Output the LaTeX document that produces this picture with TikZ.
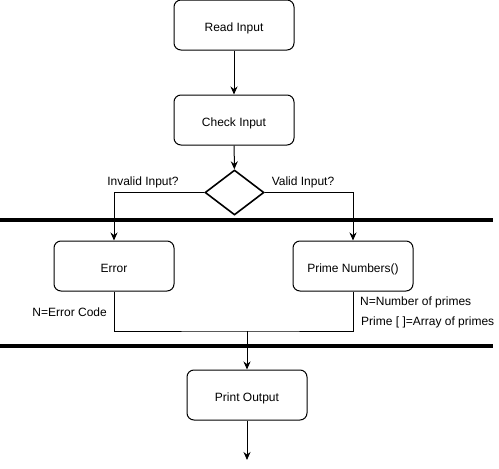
\documentclass[tikz,border=0pt]{standalone}
\usepackage{fontspec}
\setmainfont{Liberation Sans}
\usetikzlibrary{arrows.meta,shapes.geometric,positioning,calc}
\tikzset{block/.style={draw, line width=1pt, rounded corners=7pt, minimum width=120pt, minimum height=50pt, inner sep=0pt, text height=12pt, text depth=0pt}}
\tikzset{test/.style={draw, diamond, line width=1.6pt, minimum width=59pt, minimum height=45pt, inner sep=0pt}}
\tikzset{note/.style={inner sep=0pt}}

\begin{document}
\begin{tikzpicture}[x=1pt, y=-1pt, >={Stealth[length=8pt,width=7pt]}, font=\fontsize{12}{14}\selectfont]
\useasboundingbox (0,0) rectangle (499,469);

\node [block] (read) at (234,25) {Read Input};
\node [block] (check) at (234,120) {Check Input};
\node [test] (valid) at (234.5,192.5) {};
\node [block] (error) at (114,266) {Error};
\node [block] (prime) at (353,266) {Prime Numbers()};
\node [block] (print) at (247,395) {Print Output};

\draw [line width=4pt] (0,220) -- (493,220);
\draw [line width=4pt] (0,346) -- (493,346);

\draw [->, line width=1pt] (read) -- (check);
\draw [->, line width=1pt] (check) -- (valid);
\draw [->, line width=1pt] (valid.west) -| (error);
\draw [->, line width=1pt] (valid.east) -| (prime);

\coordinate (join) at (247,331);
\draw [line width=1pt] (error) |- (join) -| (prime);
\draw [->, line width=1pt] (join) -- (print);

\coordinate (stop) at (247,460);
\draw [->, line width=1pt] (print) -- (stop);

\node [note] (invalidlbl) at (143,182) {Invalid Input?};
\node [note] (validlbl) at (303,182) {Valid Input?};
\node [note, anchor=east] (codelbl) at (107,312) {N=Error Code};
\node [note, anchor=west] (numlbl) at (360,302) {N=Number of primes};
\node [note, anchor=west] (arraylbl) at (361,322) {Prime [ ]=Array of primes};
\end{tikzpicture}
\end{document}
